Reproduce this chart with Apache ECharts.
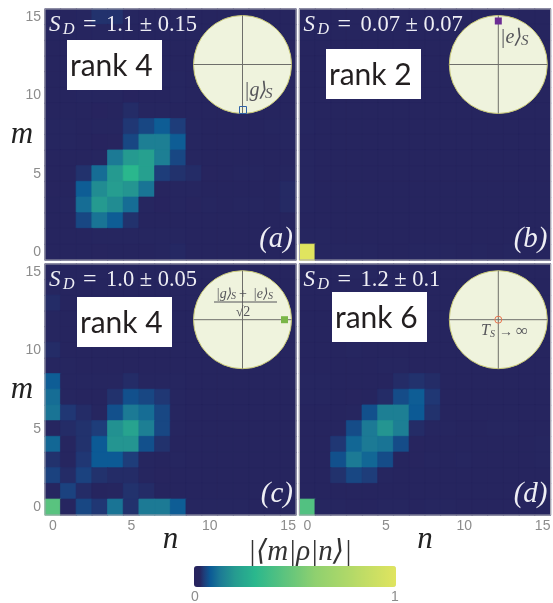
<!DOCTYPE html>
<html><head><meta charset="utf-8">
<style>html,body{margin:0;padding:0;background:#fff}#c{width:553px;height:603px}</style>
<script src="https://cdn.jsdelivr.net/npm/echarts@6/dist/echarts.min.js"></script>
</head><body><div id="c"></div>
<script>
const tickLabels = ['0','1','2','3','4','5','6','7','8','9','10','11','12','13','14','15'];
// rows are written from m = 15 (top) down to m = 0; columns n = 0..15
const rowsA = [
[.02,.02,.025,.04,.04,.025,.02,.02,.02,.02,.02,.02,.02,.02,.02,.02],
[.02,.02,.02,.025,.025,.02,.02,.02,.02,.02,.02,.02,.02,.02,.02,.02],
[.02,.02,.02,.02,.02,.02,.02,.02,.02,.02,.02,.02,.02,.02,.02,.02],
[.02,.02,.02,.02,.02,.02,.022,.022,.02,.02,.02,.02,.02,.02,.02,.02],
[.02,.02,.022,.022,.02,.02,.022,.025,.025,.02,.02,.02,.02,.02,.02,.02],
[.02,.02,.025,.03,.025,.012,.02,.02,.025,.02,.02,.02,.02,.02,.02,.02],
[.02,.02,.02,.012,.02,.035,.03,.025,.022,.02,.02,.02,.02,.02,.02,.02],
[.028,.028,.022,.03,.025,.045,.06,.085,.05,.025,.022,.022,.02,.02,.025,.03],
[.03,.03,.022,.012,.015,.06,.14,.14,.085,.025,.02,.02,.022,.02,.02,.025],
[.02,.02,.022,.03,.13,.2,.22,.14,.06,.03,.02,.02,.02,.02,.02,.02],
[.02,.02,.04,.11,.2,.3,.22,.05,.04,.035,.015,.02,.025,.025,.02,.03],
[.015,.02,.085,.17,.21,.19,.12,.015,.025,.025,.02,.02,.02,.02,.02,.033],
[.02,.03,.11,.2,.17,.11,.025,.012,.025,.015,.03,.02,.025,.025,.02,.033],
[.02,.02,.06,.12,.085,.04,.02,.02,.02,.02,.02,.02,.02,.02,.02,.02],
[.02,.02,.02,.03,.028,.028,.025,.025,.03,.02,.02,.02,.02,.02,.02,.02],
[.02,.02,.02,.015,.018,.02,.022,.03,.032,.02,.02,.02,.02,.02,.02,.02]
];
const rowsB = [
[.02,.02,.02,.02,.02,.02,.02,.02,.02,.02,.02,.02,.02,.02,.02,.02],
[.02,.02,.02,.02,.02,.02,.02,.02,.02,.02,.02,.02,.02,.02,.02,.02],
[.02,.02,.02,.02,.02,.02,.02,.02,.02,.02,.02,.02,.02,.02,.02,.02],
[.02,.02,.02,.02,.02,.02,.02,.02,.02,.02,.02,.02,.02,.02,.02,.02],
[.022,.02,.02,.02,.02,.02,.02,.02,.02,.02,.02,.02,.02,.02,.02,.02],
[.02,.02,.02,.02,.02,.02,.02,.02,.02,.02,.02,.02,.02,.02,.02,.02],
[.02,.02,.02,.02,.02,.02,.02,.02,.02,.02,.02,.02,.02,.02,.02,.02],
[.026,.02,.02,.018,.018,.018,.02,.02,.02,.02,.02,.02,.02,.02,.02,.02],
[.02,.02,.02,.018,.018,.018,.02,.02,.018,.018,.02,.02,.02,.02,.02,.02],
[.024,.02,.02,.02,.018,.018,.02,.02,.02,.02,.02,.02,.02,.02,.02,.02],
[.028,.02,.02,.02,.02,.02,.02,.02,.02,.02,.02,.02,.02,.02,.02,.02],
[.03,.02,.02,.02,.02,.02,.018,.02,.02,.02,.02,.02,.02,.02,.02,.02],
[.03,.02,.02,.02,.02,.02,.018,.02,.02,.02,.02,.02,.02,.02,.02,.02],
[.02,.02,.02,.02,.02,.02,.02,.02,.02,.02,.02,.02,.02,.02,.02,.02],
[.025,.03,.02,.02,.02,.02,.02,.02,.02,.02,.02,.02,.02,.02,.02,.02],
[1,.025,.025,.03,.03,.02,.02,.025,.028,.028,.022,.025,.022,.025,.02,.02]
];
const rowsC = [
[.02,.02,.02,.02,.02,.02,.02,.02,.02,.02,.02,.02,.02,.02,.02,.02],
[.025,.02,.02,.02,.02,.02,.02,.02,.02,.02,.02,.02,.02,.02,.02,.02],
[.035,.02,.02,.02,.02,.02,.02,.02,.02,.02,.02,.02,.02,.02,.02,.02],
[.025,.02,.02,.02,.02,.02,.02,.02,.02,.02,.02,.02,.02,.02,.02,.02],
[.03,.02,.02,.02,.02,.02,.02,.02,.02,.02,.02,.02,.02,.02,.02,.02],
[.035,.02,.02,.02,.02,.02,.02,.02,.02,.02,.02,.02,.02,.02,.02,.02],
[.03,.025,.022,.022,.022,.02,.02,.02,.02,.02,.02,.02,.02,.02,.02,.02],
[.085,.03,.025,.03,.03,.035,.03,.025,.028,.02,.02,.02,.02,.02,.02,.02],
[.11,.03,.018,.018,.04,.07,.06,.045,.028,.02,.019,.019,.02,.02,.02,.02],
[.12,.045,.035,.03,.07,.13,.11,.06,.03,.02,.02,.02,.02,.02,.02,.02],
[.03,.035,.04,.05,.18,.23,.14,.06,.03,.02,.02,.02,.02,.02,.02,.02],
[.1,.03,.04,.08,.19,.19,.07,.04,.022,.02,.02,.02,.02,.02,.02,.02],
[.04,.025,.045,.08,.08,.05,.03,.02,.028,.022,.02,.02,.02,.02,.02,.02],
[.055,.035,.055,.04,.035,.035,.03,.015,.02,.02,.02,.02,.02,.02,.02,.02],
[.025,.055,.035,.02,.03,.04,.035,.02,.02,.02,.02,.02,.02,.02,.02,.02],
[.44,.025,.06,.045,.12,.04,.13,.13,.085,.03,.028,.025,.025,.02,.022,.02]
];
const rowsD = [
[.02,.02,.022,.03,.03,.022,.02,.02,.02,.02,.02,.02,.02,.02,.02,.02],
[.02,.02,.02,.02,.02,.02,.02,.02,.02,.02,.02,.02,.02,.02,.02,.02],
[.02,.02,.02,.02,.02,.02,.02,.02,.02,.02,.02,.02,.02,.02,.02,.02],
[.02,.02,.02,.02,.02,.02,.02,.02,.02,.02,.02,.02,.02,.02,.02,.02],
[.02,.02,.02,.02,.02,.02,.02,.02,.02,.02,.02,.02,.02,.02,.02,.02],
[.02,.02,.02,.028,.022,.02,.02,.02,.02,.02,.02,.02,.02,.02,.02,.02],
[.02,.02,.02,.02,.022,.025,.025,.02,.02,.02,.02,.02,.02,.02,.02,.02],
[.03,.025,.02,.02,.022,.02,.035,.04,.035,.02,.02,.02,.02,.02,.02,.02],
[.03,.025,.02,.015,.018,.035,.065,.085,.045,.02,.02,.02,.02,.02,.02,.02],
[.02,.02,.02,.028,.07,.14,.14,.08,.04,.02,.02,.02,.02,.02,.02,.02],
[.02,.02,.028,.065,.13,.19,.14,.035,.028,.028,.018,.02,.025,.025,.022,.022],
[.02,.02,.045,.1,.13,.12,.065,.015,.02,.02,.02,.02,.02,.02,.02,.025],
[.022,.022,.07,.13,.1,.065,.02,.015,.025,.02,.028,.02,.022,.022,.02,.025],
[.02,.022,.04,.06,.05,.028,.02,.02,.02,.02,.02,.02,.02,.02,.02,.02],
[.02,.02,.02,.02,.02,.02,.02,.02,.02,.02,.02,.02,.02,.02,.02,.02],
[.42,.025,.025,.022,.02,.025,.025,.02,.03,.03,.02,.02,.02,.02,.02,.02]
];
const panelLabels = ['(a)','(b)','(c)','(d)'];
const sdTexts = ['1.1 ± 0.15','0.07 ± 0.07','1.0 ± 0.05','1.2 ± 0.1'];
const rankTexts = ['rank 4','rank 2','rank 4','rank 6'];

const frames = [
  {l:45,t:9},{l:299.5,t:9},{l:45,t:264},{l:299.5,t:264}
];
const W = 251, H = 251;
const allRows = [rowsA,rowsB,rowsC,rowsD];
const rankBoxes = [[67,40],[326,49],[77,297],[332,292]];
const bloch = [[242.5,64.5],[498.3,64.5],[242.5,319.7],[498.3,319.7]];
const serif = '"Liberation Serif","DejaVu Serif",serif';
const labelGrey = '#8c8c8c';

const anchors = [[0,[39,35,94]],[.03,[38,38,96]],[.05,[30,61,122]],[.08,[12,90,149]],[.13,[28,122,149]],[.2,[37,154,144]],[.3,[42,183,141]],[.6,[143,208,111]],[1,[224,228,95]]];
function mixColor(v){
  for(let i=1;i<anchors.length;i++){
    if(v<=anchors[i][0]){
      const a=anchors[i-1],b=anchors[i],k=(v-a[0])/(b[0]-a[0]);
      return 'rgb('+a[1].map((c,j)=>Math.round(c+(b[1][j]-c)*k)).join(',')+')';
    }
  }
  return 'rgb(224,228,95)';
}
const ramp=[]; for(let i=0;i<=200;i++) ramp.push(mixColor(i/200));

function txt(x,y,text,o){
  return {type:'text',x:x,y:y,z:20,silent:true,style:Object.assign({text:text,fontFamily:serif,fill:'#eeeef4',fontSize:22,textAlign:'left',textVerticalAlign:'middle'},o||{})};
}
const g=[];
frames.forEach((f,i)=>{
  g.push({type:'rect',z:15,silent:true,shape:{x:f.l,y:f.t,width:W,height:H},style:{fill:null,stroke:'#a6a6b0',lineWidth:1}});
  const x0=f.l+4, yS=f.t+16;
  g.push(txt(x0,yS,'S',{fontStyle:'italic',fontSize:23}));
  g.push(txt(x0+14,yS+5,'D',{fontStyle:'italic',fontSize:16}));
  g.push(txt(x0+34,yS,'=',{fontSize:24}));
  g.push(txt(x0+57,yS,sdTexts[i],{fontSize:22.5}));
  g.push(txt(f.l+W-3,f.t+H-21,panelLabels[i],{fontStyle:'italic',fontSize:29,textAlign:'right'}));
  const b=rankBoxes[i];
  g.push({type:'rect',z:16,silent:true,shape:{x:b[0],y:b[1],width:95,height:50},style:{fill:'#fff'}});
  g.push({type:'text',x:b[0]+3,y:b[1]+26,z:17,silent:true,style:{text:rankTexts[i],fontFamily:'Lato,"Open Sans"',fontSize:30,fill:'#231f20',textVerticalAlign:'middle'}});
  const c=bloch[i], r=49;
  g.push({type:'circle',z:16,silent:true,shape:{cx:c[0],cy:c[1],r:r},style:{fill:'#eff3dd',stroke:'#c9c976',lineWidth:1}});
  g.push({type:'line',z:17,silent:true,shape:{x1:c[0]-r,y1:c[1],x2:c[0]+r,y2:c[1]},style:{stroke:'#6e6e6a',lineWidth:1}});
  g.push({type:'line',z:17,silent:true,shape:{x1:c[0],y1:c[1]-r,x2:c[0],y2:c[1]+r},style:{stroke:'#6e6e6a',lineWidth:1}});
});
const ink='#55555a';
g.push({type:'rect',z:18,silent:true,shape:{x:239.5,y:106.5,width:7,height:7},style:{fill:null,stroke:'#2f62a8',lineWidth:1}});
g.push(txt(244,91,'|g⟩',{fill:ink,fontSize:20,fontStyle:'italic'}));
g.push(txt(265,94,'S',{fill:ink,fontSize:15,fontStyle:'italic'}));
g.push({type:'rect',z:18,silent:true,shape:{x:494.8,y:17.5,width:7,height:7},style:{fill:'#6b2c94'}});
g.push(txt(500,38,'|e⟩',{fill:ink,fontSize:20,fontStyle:'italic'}));
g.push(txt(521,41,'S',{fill:ink,fontSize:15,fontStyle:'italic'}));
g.push({type:'rect',z:18,silent:true,shape:{x:281,y:316.2,width:7,height:7},style:{fill:'#7ab648'}});
g.push(txt(216,294,'|g⟩',{fill:ink,fontSize:14,fontStyle:'italic'}));
g.push(txt(231,296,'S',{fill:ink,fontSize:10,fontStyle:'italic'}));
g.push(txt(239,294,'+',{fill:ink,fontSize:14}));
g.push(txt(253,294,'|e⟩',{fill:ink,fontSize:14,fontStyle:'italic'}));
g.push(txt(268,296,'S',{fill:ink,fontSize:10,fontStyle:'italic'}));
g.push({type:'line',z:18,silent:true,shape:{x1:214,y1:302,x2:277,y2:302},style:{stroke:ink,lineWidth:1}});
g.push(txt(243,312,'√2',{fill:ink,fontSize:14,textAlign:'center'}));
g.push({type:'circle',z:18,silent:true,shape:{cx:498.3,cy:319.7,r:3.5},style:{fill:null,stroke:'#ea7550',lineWidth:1}});
g.push(txt(481,331,'T',{fill:ink,fontSize:16,fontStyle:'italic'}));
g.push(txt(490,334,'S',{fill:ink,fontSize:10,fontStyle:'italic'}));
g.push(txt(499,332,'→',{fill:ink,fontSize:14}));
g.push(txt(516,332,'∞',{fill:ink,fontSize:17}));
g.push(txt(300,552,'|⟨m|ρ|n⟩|',{fill:'#333',fontSize:29,fontStyle:'italic',textAlign:'center'}));
g.push(txt(195,597,'0',{fill:labelGrey,fontSize:14,fontFamily:'"Liberation Sans"',textAlign:'center'}));
g.push(txt(395,597,'1',{fill:labelGrey,fontSize:14,fontFamily:'"Liberation Sans"',textAlign:'center'}));

const grids=[],xAxes=[],yAxes=[],series=[];
frames.forEach((f,i)=>{
  grids.push({left:f.l,top:f.t,width:W,height:H,containLabel:false,outerBoundsMode:'none',show:true,backgroundColor:'#27245e',borderWidth:0});
  const bottom=i>=2, left=i%2===0;
  xAxes.push({type:'category',gridIndex:i,data:tickLabels,boundaryGap:true,
    axisLine:{show:false},
    axisTick:{show:true,inside:true,length:3,alignWithLabel:true,interval:4,lineStyle:{color:'#9a9aa4',width:1}},
    axisLabel:{show:bottom,interval:4,color:labelGrey,fontSize:14,fontFamily:'"Liberation Sans"',margin:4},
    name:bottom?'n':'',nameLocation:'middle',nameGap:25,nameMoveOverlap:false,
    nameTextStyle:{fontFamily:serif,fontStyle:'italic',fontSize:31,color:'#222',verticalAlign:'middle'},
    splitLine:{show:false}});
  yAxes.push({type:'category',gridIndex:i,data:tickLabels,boundaryGap:true,
    axisLine:{show:false},
    axisTick:{show:true,inside:true,length:3,alignWithLabel:true,interval:4,lineStyle:{color:'#9a9aa4',width:1}},
    axisLabel:{show:left,interval:4,color:labelGrey,fontSize:14,fontFamily:'"Liberation Sans"',margin:4},
    name:left?'m':'',nameLocation:'middle',nameGap:23,nameRotate:0,nameMoveOverlap:false,
    nameTextStyle:{fontFamily:serif,fontStyle:'italic',fontSize:31,color:'#222',align:'center',verticalAlign:'middle'},
    splitLine:{show:false}});
  const pts=[];
  allRows[i].forEach((row,r)=>row.forEach((v,n)=>pts.push({value:[n,15-r,v],itemStyle:{borderColor:mixColor(v),borderWidth:0.7}})));
  series.push({type:'heatmap',xAxisIndex:i,yAxisIndex:i,data:pts,progressive:0,animation:false,emphasis:{disabled:true}});
});

const chart=echarts.init(document.getElementById('c'),null,{renderer:'canvas'});
chart.setOption({
  animation:false,backgroundColor:'#fff',
  grid:grids,xAxis:xAxes,yAxis:yAxes,series:series,
  visualMap:{type:'continuous',min:0,max:1,seriesIndex:[0,1,2,3],orient:'horizontal',
    left:194,top:566,itemWidth:21,itemHeight:202,padding:0,calculable:false,realtime:false,
    showLabel:false,text:null,inRange:{color:ramp},hoverLink:false},
  graphic:{elements:g}
});
</script></body></html>
